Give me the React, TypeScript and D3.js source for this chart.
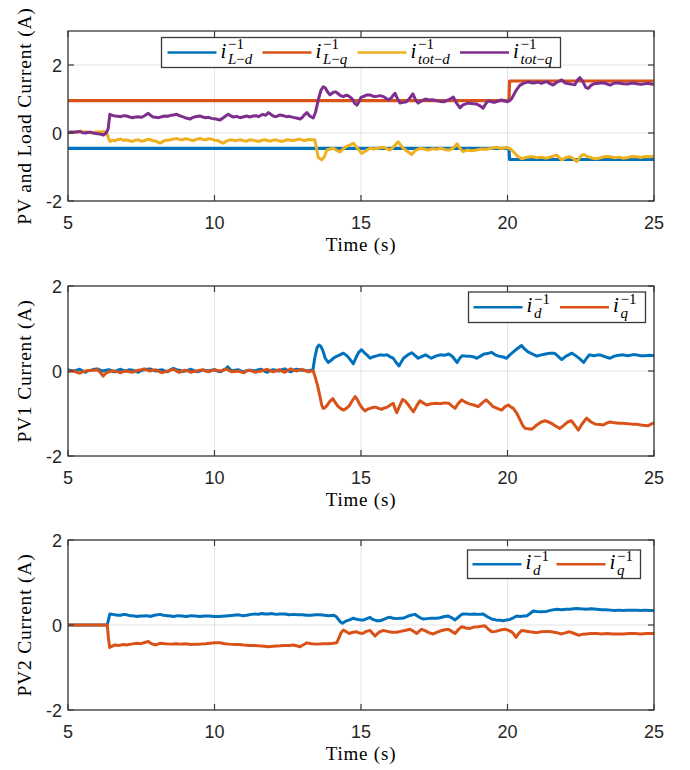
import React from "react";
import * as d3 from "d3";

type Pt = [number, number];

// ---- axes ----
const timeDomain: [number, number] = [5, 25];
const timeTicks = [5, 10, 15, 20, 25];
const currentTicks = [-2, 0, 2];

// ---- panel 1: load and total currents ----
const loadD: Pt[] = [[5, -0.45], [20.05, -0.45], [20.07, -0.78], [25, -0.78]];
const loadQ: Pt[] = [[5, 0.95], [20.05, 0.95], [20.07, 1.53], [25, 1.53]];

const totD: Pt[] = [
  [5.0, 0.0], [5.1, 0.02], [5.2, 0.03], [5.3, 0.01], [5.41, 0.06], [5.5, 0.03], [5.6, 0.04], [5.75, 0.01], [5.87, 0.0],
  [5.95, 0.03], [6.05, 0.04], [6.15, 0.02], [6.21, 0.05], [6.32, 0.0], [6.43, -0.25], [6.52, -0.21], [6.6, -0.23],
  [6.7, -0.19], [6.8, -0.18], [6.9, -0.22], [7.0, -0.2], [7.1, -0.23], [7.2, -0.25], [7.3, -0.21], [7.4, -0.2],
  [7.5, -0.24], [7.6, -0.23], [7.7, -0.19], [7.8, -0.19], [7.9, -0.23], [8.0, -0.24], [8.14, -0.3], [8.22, -0.26],
  [8.3, -0.22], [8.4, -0.21], [8.5, -0.2], [8.6, -0.18], [8.71, -0.16], [8.8, -0.19], [8.9, -0.2], [9.0, -0.17],
  [9.1, -0.18], [9.2, -0.21], [9.3, -0.22], [9.4, -0.18], [9.5, -0.16], [9.6, -0.19], [9.7, -0.2], [9.8, -0.17],
  [9.9, -0.18], [10.0, -0.21], [10.1, -0.22], [10.2, -0.26], [10.3, -0.3], [10.4, -0.24], [10.5, -0.21],
  [10.6, -0.2], [10.7, -0.23], [10.8, -0.21], [10.87, -0.2], [11.0, -0.23], [11.1, -0.24], [11.2, -0.2],
  [11.32, -0.21], [11.4, -0.23], [11.5, -0.25], [11.6, -0.22], [11.7, -0.2], [11.8, -0.22], [11.9, -0.24],
  [12.0, -0.21], [12.1, -0.2], [12.2, -0.23], [12.3, -0.25], [12.4, -0.22], [12.5, -0.2], [12.6, -0.21],
  [12.7, -0.22], [12.8, -0.2], [12.9, -0.18], [13.0, -0.21], [13.1, -0.22], [13.2, -0.19], [13.3, -0.2],
  [13.42, -0.2], [13.48, -0.45], [13.54, -0.72], [13.66, -0.79], [13.75, -0.7], [13.83, -0.5], [13.95, -0.47],
  [14.06, -0.45], [14.15, -0.5], [14.28, -0.56], [14.4, -0.46], [14.5, -0.4], [14.6, -0.36], [14.74, -0.3],
  [14.88, -0.45], [15.02, -0.6], [15.12, -0.55], [15.2, -0.5], [15.31, -0.45], [15.45, -0.47], [15.6, -0.44],
  [15.77, -0.42], [15.9, -0.47], [16.0, -0.5], [16.12, -0.4], [16.27, -0.26], [16.36, -0.36], [16.44, -0.45],
  [16.6, -0.55], [16.73, -0.63], [16.85, -0.52], [17.01, -0.45], [17.15, -0.47], [17.3, -0.5], [17.45, -0.46],
  [17.58, -0.48], [17.72, -0.45], [17.88, -0.49], [18.03, -0.5], [18.15, -0.44], [18.28, -0.32], [18.38, -0.46],
  [18.49, -0.55], [18.62, -0.5], [18.78, -0.52], [18.95, -0.5], [19.1, -0.47], [19.28, -0.48], [19.45, -0.45],
  [19.63, -0.42], [19.8, -0.46], [19.97, -0.42], [20.08, -0.46], [20.2, -0.55], [20.34, -0.68], [20.48, -0.76],
  [20.62, -0.72], [20.75, -0.7], [20.88, -0.7], [21.0, -0.73], [21.15, -0.71], [21.33, -0.74], [21.5, -0.7],
  [21.68, -0.65], [21.85, -0.79], [22.0, -0.72], [22.13, -0.7], [22.25, -0.75], [22.36, -0.84], [22.48, -0.7],
  [22.59, -0.63], [22.75, -0.7], [22.9, -0.74], [23.05, -0.76], [23.2, -0.72], [23.35, -0.69], [23.5, -0.7],
  [23.65, -0.73], [23.8, -0.71], [23.95, -0.74], [24.1, -0.72], [24.25, -0.69], [24.41, -0.7], [24.55, -0.72],
  [24.7, -0.69], [24.85, -0.7], [25.0, -0.68],
];

const totQ: Pt[] = [
  [5.0, 0.01], [5.1, 0.03], [5.2, 0.02], [5.3, 0.04], [5.41, 0.04], [5.5, 0.01], [5.6, 0.0], [5.7, 0.02],
  [5.8, 0.02], [5.9, -0.01], [6.0, -0.02], [6.1, -0.03], [6.21, -0.06], [6.3, 0.0], [6.37, 0.12], [6.43, 0.55],
  [6.52, 0.52], [6.6, 0.5], [6.7, 0.49], [6.8, 0.48], [6.9, 0.51], [7.0, 0.5], [7.1, 0.47], [7.2, 0.45],
  [7.3, 0.47], [7.4, 0.48], [7.5, 0.46], [7.6, 0.5], [7.74, 0.58], [7.82, 0.52], [7.9, 0.47], [8.0, 0.46],
  [8.1, 0.45], [8.2, 0.48], [8.3, 0.5], [8.4, 0.49], [8.5, 0.52], [8.6, 0.53], [8.71, 0.55], [8.8, 0.51],
  [8.9, 0.48], [9.0, 0.45], [9.16, 0.41], [9.25, 0.45], [9.35, 0.48], [9.5, 0.5], [9.6, 0.47], [9.7, 0.45],
  [9.8, 0.46], [9.9, 0.43], [10.05, 0.41], [10.19, 0.38], [10.3, 0.45], [10.38, 0.5], [10.47, 0.55], [10.56, 0.5],
  [10.65, 0.47], [10.75, 0.49], [10.87, 0.45], [11.0, 0.48], [11.1, 0.5], [11.2, 0.47], [11.32, 0.5],
  [11.42, 0.51], [11.5, 0.48], [11.58, 0.52], [11.65, 0.55], [11.75, 0.52], [11.84, 0.6], [11.92, 0.55],
  [12.0, 0.5], [12.1, 0.48], [12.24, 0.53], [12.35, 0.51], [12.45, 0.48], [12.55, 0.49], [12.69, 0.46],
  [12.8, 0.44], [12.92, 0.41], [13.0, 0.46], [13.05, 0.52], [13.15, 0.6], [13.25, 0.5], [13.37, 0.44],
  [13.45, 0.62], [13.55, 1.0], [13.63, 1.25], [13.71, 1.36], [13.78, 1.33], [13.85, 1.22], [13.94, 1.12],
  [14.06, 1.2], [14.13, 1.21], [14.2, 1.17], [14.3, 1.1], [14.4, 1.07], [14.48, 1.11], [14.55, 1.1],
  [14.62, 1.06], [14.7, 1.0], [14.78, 0.88], [14.86, 0.82], [14.93, 0.92], [15.0, 1.05], [15.1, 1.08],
  [15.2, 1.12], [15.31, 1.12], [15.42, 1.08], [15.5, 1.07], [15.65, 1.1], [15.77, 1.07], [15.85, 1.02],
  [15.95, 0.97], [16.05, 1.05], [16.16, 1.17], [16.25, 1.0], [16.33, 0.88], [16.45, 0.9], [16.55, 0.92],
  [16.66, 1.02], [16.77, 1.15], [16.86, 0.98], [16.95, 0.88], [17.08, 0.95], [17.2, 1.0], [17.32, 0.97],
  [17.45, 0.98], [17.58, 0.95], [17.7, 0.93], [17.85, 0.92], [18.0, 0.98], [18.15, 1.06], [18.26, 0.88],
  [18.38, 0.74], [18.47, 0.82], [18.55, 0.85], [18.65, 0.88], [18.75, 0.87], [18.85, 0.86], [18.95, 0.85],
  [19.06, 0.8], [19.17, 0.73], [19.27, 0.88], [19.35, 0.95], [19.45, 0.92], [19.55, 0.9], [19.68, 0.94],
  [19.8, 0.97], [19.9, 0.94], [20.0, 0.92], [20.08, 0.96], [20.15, 1.02], [20.3, 1.26], [20.42, 1.4],
  [20.54, 1.46], [20.65, 1.49], [20.75, 1.5], [20.85, 1.47], [20.95, 1.48], [21.05, 1.5], [21.15, 1.46],
  [21.25, 1.49], [21.35, 1.51], [21.45, 1.45], [21.56, 1.41], [21.7, 1.5], [21.85, 1.56], [21.97, 1.47],
  [22.1, 1.45], [22.2, 1.43], [22.3, 1.42], [22.38, 1.55], [22.47, 1.63], [22.58, 1.5], [22.67, 1.34],
  [22.75, 1.31], [22.85, 1.4], [22.95, 1.45], [23.1, 1.46], [23.2, 1.48], [23.3, 1.47], [23.4, 1.44],
  [23.5, 1.41], [23.62, 1.46], [23.75, 1.48], [23.85, 1.46], [23.95, 1.45], [24.1, 1.44], [24.2, 1.46],
  [24.3, 1.47], [24.41, 1.45], [24.55, 1.43], [24.7, 1.45], [24.82, 1.46], [24.9, 1.44], [25.0, 1.43],
];

// ---- panel 2: PV1 dq currents ----
const pv1D: Pt[] = [
  [5.0, 0.03], [5.1, 0.01], [5.2, 0.0], [5.3, 0.02], [5.4, 0.04], [5.5, 0.0], [5.6, -0.03], [5.7, 0.01],
  [5.8, 0.02], [5.9, 0.04], [6.0, 0.05], [6.1, 0.02], [6.2, 0.0], [6.3, 0.02], [6.4, 0.03], [6.5, 0.0],
  [6.6, -0.02], [6.7, 0.02], [6.8, 0.04], [6.9, 0.01], [7.0, 0.0], [7.1, 0.03], [7.2, 0.02], [7.3, -0.01],
  [7.4, -0.03], [7.5, 0.01], [7.6, 0.03], [7.7, 0.04], [7.8, 0.05], [7.9, 0.02], [8.0, 0.0], [8.1, 0.02],
  [8.2, 0.03], [8.3, 0.0], [8.4, -0.02], [8.5, 0.03], [8.6, 0.06], [8.7, 0.03], [8.8, 0.02], [8.9, -0.01],
  [9.0, 0.0], [9.1, 0.02], [9.2, 0.04], [9.3, 0.01], [9.4, -0.02], [9.5, 0.0], [9.6, 0.02], [9.7, 0.01],
  [9.8, 0.0], [9.9, 0.02], [10.0, 0.03], [10.1, 0.0], [10.2, -0.02], [10.3, 0.02], [10.4, 0.06], [10.45, 0.1],
  [10.52, 0.04], [10.6, 0.0], [10.7, 0.02], [10.8, 0.03], [10.9, 0.0], [11.0, -0.02], [11.1, 0.01],
  [11.2, 0.02], [11.3, 0.01], [11.4, 0.0], [11.5, 0.03], [11.6, 0.04], [11.7, 0.0], [11.8, -0.03], [11.9, 0.01],
  [12.0, 0.03], [12.1, 0.02], [12.2, 0.0], [12.3, 0.03], [12.4, 0.05], [12.5, 0.01], [12.6, -0.02], [12.7, 0.02],
  [12.8, 0.04], [12.9, 0.03], [13.0, 0.02], [13.1, 0.01], [13.2, 0.0], [13.3, 0.02], [13.36, 0.03],
  [13.42, 0.3], [13.5, 0.55], [13.56, 0.61], [13.63, 0.58], [13.7, 0.48], [13.78, 0.3], [13.88, 0.2],
  [13.96, 0.24], [14.06, 0.3], [14.15, 0.34], [14.28, 0.38], [14.4, 0.42], [14.48, 0.38], [14.55, 0.34],
  [14.65, 0.25], [14.74, 0.17], [14.82, 0.3], [14.92, 0.44], [15.02, 0.5], [15.1, 0.44], [15.2, 0.38],
  [15.31, 0.3], [15.4, 0.33], [15.5, 0.35], [15.65, 0.38], [15.77, 0.37], [15.9, 0.38], [16.0, 0.33],
  [16.1, 0.3], [16.2, 0.2], [16.3, 0.12], [16.38, 0.22], [16.45, 0.3], [16.6, 0.38], [16.73, 0.43],
  [16.85, 0.36], [16.95, 0.3], [17.07, 0.34], [17.2, 0.38], [17.3, 0.34], [17.4, 0.3], [17.55, 0.35],
  [17.7, 0.38], [17.85, 0.37], [18.0, 0.4], [18.12, 0.34], [18.28, 0.2], [18.37, 0.3], [18.45, 0.36],
  [18.6, 0.35], [18.72, 0.35], [18.85, 0.33], [18.95, 0.3], [19.08, 0.35], [19.2, 0.4], [19.32, 0.41],
  [19.45, 0.44], [19.58, 0.38], [19.7, 0.35], [19.85, 0.33], [19.97, 0.3], [20.08, 0.38], [20.2, 0.45],
  [20.34, 0.53], [20.48, 0.6], [20.58, 0.52], [20.7, 0.45], [20.85, 0.4], [21.0, 0.35], [21.15, 0.38],
  [21.3, 0.4], [21.45, 0.42], [21.6, 0.42], [21.72, 0.35], [21.85, 0.27], [22.0, 0.35], [22.2, 0.42],
  [22.35, 0.35], [22.48, 0.28], [22.6, 0.2], [22.7, 0.3], [22.8, 0.38], [22.95, 0.36], [23.1, 0.38],
  [23.2, 0.37], [23.35, 0.33], [23.5, 0.3], [23.65, 0.35], [23.8, 0.37], [23.95, 0.38], [24.1, 0.36],
  [24.25, 0.38], [24.4, 0.38], [24.55, 0.36], [24.7, 0.36], [24.85, 0.37], [25.0, 0.36],
];

const pv1Q: Pt[] = [
  [5.0, -0.02], [5.1, 0.0], [5.2, 0.0], [5.3, -0.03], [5.4, -0.05], [5.5, -0.02], [5.6, 0.0], [5.7, 0.01],
  [5.8, 0.02], [5.9, 0.02], [6.0, 0.03], [6.1, -0.03], [6.2, -0.12], [6.28, -0.06], [6.35, -0.03], [6.5, 0.0],
  [6.6, 0.0], [6.7, -0.02], [6.8, -0.04], [6.9, -0.01], [7.0, 0.0], [7.1, -0.02], [7.2, -0.03], [7.3, 0.0],
  [7.4, 0.02], [7.5, 0.03], [7.6, 0.05], [7.7, 0.02], [7.8, 0.0], [7.9, 0.02], [8.0, 0.03], [8.1, -0.01],
  [8.2, -0.04], [8.3, -0.02], [8.4, 0.0], [8.5, 0.02], [8.6, 0.04], [8.7, 0.0], [8.8, -0.03], [8.9, 0.0],
  [9.0, 0.02], [9.1, 0.0], [9.2, -0.03], [9.3, -0.01], [9.4, 0.0], [9.5, 0.02], [9.6, 0.03], [9.7, 0.0],
  [9.8, -0.02], [9.9, 0.01], [10.0, 0.03], [10.1, 0.01], [10.2, 0.0], [10.3, 0.02], [10.4, 0.05], [10.5, 0.01],
  [10.6, -0.02], [10.7, -0.01], [10.8, 0.0], [10.9, -0.02], [11.0, -0.04], [11.1, 0.0], [11.2, 0.02],
  [11.3, -0.01], [11.4, -0.03], [11.5, -0.01], [11.6, 0.0], [11.7, 0.02], [11.8, 0.04], [11.9, 0.01],
  [12.0, -0.02], [12.1, 0.0], [12.2, 0.03], [12.3, 0.0], [12.4, -0.03], [12.5, 0.01], [12.6, 0.05],
  [12.7, 0.02], [12.8, 0.0], [12.9, 0.02], [13.0, 0.04], [13.1, 0.01], [13.2, -0.02], [13.3, 0.0],
  [13.37, 0.0], [13.44, -0.15], [13.52, -0.35], [13.6, -0.6], [13.66, -0.8], [13.71, -0.88], [13.77, -0.86],
  [13.83, -0.82], [13.93, -0.72], [14.04, -0.65], [14.12, -0.74], [14.2, -0.82], [14.3, -0.88], [14.4, -0.92],
  [14.5, -0.88], [14.6, -0.82], [14.7, -0.7], [14.8, -0.6], [14.88, -0.68], [14.95, -0.78], [15.05, -0.88],
  [15.14, -0.94], [15.22, -0.9], [15.31, -0.88], [15.4, -0.86], [15.5, -0.85], [15.6, -0.88], [15.7, -0.9],
  [15.8, -0.87], [15.9, -0.85], [16.0, -0.8], [16.1, -0.76], [16.16, -0.88], [16.22, -0.98], [16.32, -0.82],
  [16.42, -0.67], [16.5, -0.7], [16.6, -0.78], [16.7, -0.88], [16.79, -0.96], [16.9, -0.82], [17.01, -0.7],
  [17.12, -0.75], [17.24, -0.8], [17.4, -0.77], [17.58, -0.76], [17.7, -0.77], [17.85, -0.75], [18.0, -0.76],
  [18.1, -0.82], [18.21, -0.88], [18.32, -0.76], [18.44, -0.68], [18.58, -0.74], [18.72, -0.78], [18.85, -0.8],
  [19.0, -0.84], [19.14, -0.75], [19.27, -0.68], [19.4, -0.76], [19.51, -0.84], [19.65, -0.88], [19.8, -0.92],
  [19.92, -0.84], [20.03, -0.8], [20.12, -0.85], [20.2, -0.88], [20.32, -1.0], [20.43, -1.15], [20.52, -1.28],
  [20.6, -1.35], [20.72, -1.36], [20.82, -1.37], [20.92, -1.32], [21.0, -1.27], [21.15, -1.2], [21.28, -1.17],
  [21.4, -1.2], [21.5, -1.23], [21.65, -1.3], [21.79, -1.35], [21.92, -1.28], [22.05, -1.2], [22.18, -1.17],
  [22.3, -1.28], [22.42, -1.39], [22.55, -1.24], [22.7, -1.11], [22.85, -1.2], [23.0, -1.25], [23.15, -1.26],
  [23.27, -1.27], [23.4, -1.22], [23.5, -1.2], [23.65, -1.22], [23.8, -1.23], [23.95, -1.23], [24.1, -1.24],
  [24.25, -1.25], [24.4, -1.25], [24.55, -1.27], [24.7, -1.28], [24.8, -1.29], [24.9, -1.25], [25.0, -1.22],
];

// ---- panel 3: PV2 dq currents ----
const pv2D: Pt[] = [
  [5.0, 0.0], [6.34, 0.0], [6.38, 0.12], [6.43, 0.26], [6.52, 0.25], [6.6, 0.24], [6.7, 0.23], [6.8, 0.23],
  [6.9, 0.25], [7.0, 0.24], [7.1, 0.22], [7.2, 0.22], [7.34, 0.2], [7.45, 0.21], [7.6, 0.21], [7.7, 0.22],
  [7.8, 0.2], [7.95, 0.23], [8.14, 0.25], [8.25, 0.23], [8.4, 0.22], [8.5, 0.21], [8.6, 0.2], [8.75, 0.22],
  [8.9, 0.21], [9.05, 0.2], [9.2, 0.22], [9.35, 0.21], [9.5, 0.2], [9.65, 0.21], [9.8, 0.21], [10.0, 0.2],
  [10.19, 0.2], [10.35, 0.21], [10.5, 0.22], [10.65, 0.23], [10.8, 0.24], [10.95, 0.22], [11.1, 0.23],
  [11.25, 0.25], [11.4, 0.26], [11.5, 0.25], [11.6, 0.27], [11.72, 0.26], [11.84, 0.26], [11.95, 0.27],
  [12.1, 0.25], [12.25, 0.26], [12.4, 0.26], [12.55, 0.24], [12.7, 0.25], [12.85, 0.24], [13.0, 0.24],
  [13.15, 0.23], [13.3, 0.23], [13.45, 0.24], [13.6, 0.24], [13.75, 0.23], [13.9, 0.22], [14.06, 0.23],
  [14.15, 0.2], [14.22, 0.14], [14.3, 0.07], [14.37, 0.04], [14.45, 0.08], [14.55, 0.11], [14.65, 0.13],
  [14.74, 0.16], [14.82, 0.14], [14.9, 0.13], [15.0, 0.12], [15.1, 0.12], [15.2, 0.15], [15.31, 0.18],
  [15.38, 0.14], [15.45, 0.12], [15.55, 0.1], [15.65, 0.1], [15.8, 0.14], [15.9, 0.17], [16.0, 0.18],
  [16.1, 0.16], [16.22, 0.15], [16.33, 0.16], [16.44, 0.16], [16.55, 0.19], [16.7, 0.23], [16.84, 0.25],
  [16.95, 0.2], [17.05, 0.16], [17.13, 0.14], [17.25, 0.15], [17.4, 0.16], [17.58, 0.16], [17.7, 0.17],
  [17.85, 0.2], [17.98, 0.21], [18.1, 0.17], [18.21, 0.12], [18.3, 0.17], [18.4, 0.23], [18.49, 0.26],
  [18.6, 0.26], [18.72, 0.25], [18.85, 0.26], [19.0, 0.25], [19.17, 0.26], [19.3, 0.2], [19.46, 0.14],
  [19.6, 0.12], [19.75, 0.11], [19.86, 0.1], [19.97, 0.12], [20.08, 0.13], [20.2, 0.17], [20.31, 0.21],
  [20.45, 0.2], [20.55, 0.21], [20.65, 0.21], [20.75, 0.26], [20.88, 0.33], [21.0, 0.32], [21.15, 0.31],
  [21.33, 0.32], [21.5, 0.35], [21.68, 0.37], [21.85, 0.36], [22.0, 0.37], [22.13, 0.37], [22.25, 0.38],
  [22.36, 0.39], [22.5, 0.38], [22.7, 0.37], [22.85, 0.38], [23.05, 0.37], [23.2, 0.36], [23.35, 0.36],
  [23.5, 0.35], [23.65, 0.34], [23.8, 0.35], [23.95, 0.34], [24.1, 0.35], [24.25, 0.35], [24.41, 0.35],
  [24.55, 0.34], [24.7, 0.35], [24.85, 0.34], [25.0, 0.34],
];

const pv2Q: Pt[] = [
  [5.0, 0.0], [6.34, 0.0], [6.38, -0.3], [6.42, -0.53], [6.5, -0.5], [6.6, -0.47], [6.75, -0.48],
  [6.9, -0.46], [7.0, -0.47], [7.15, -0.45], [7.34, -0.43], [7.5, -0.44], [7.62, -0.41], [7.74, -0.39],
  [7.85, -0.44], [8.0, -0.47], [8.14, -0.43], [8.3, -0.44], [8.5, -0.45], [8.7, -0.44], [8.85, -0.45],
  [9.0, -0.44], [9.2, -0.46], [9.35, -0.45], [9.5, -0.45], [9.7, -0.44], [9.85, -0.43], [10.0, -0.42],
  [10.19, -0.42], [10.35, -0.44], [10.5, -0.45], [10.7, -0.46], [10.85, -0.46], [11.0, -0.47],
  [11.2, -0.48], [11.35, -0.48], [11.5, -0.49], [11.7, -0.5], [11.84, -0.51], [12.0, -0.5], [12.24, -0.49],
  [12.4, -0.48], [12.55, -0.48], [12.69, -0.47], [12.8, -0.49], [12.92, -0.51], [13.05, -0.46],
  [13.15, -0.42], [13.3, -0.44], [13.5, -0.45], [13.7, -0.44], [13.9, -0.44], [14.05, -0.43], [14.17, -0.42],
  [14.25, -0.3], [14.32, -0.18], [14.4, -0.12], [14.5, -0.16], [14.6, -0.2], [14.72, -0.17], [14.85, -0.16],
  [14.95, -0.19], [15.05, -0.2], [15.18, -0.15], [15.31, -0.13], [15.4, -0.2], [15.48, -0.26],
  [15.58, -0.19], [15.67, -0.15], [15.77, -0.13], [15.9, -0.15], [16.05, -0.17], [16.22, -0.17],
  [16.35, -0.15], [16.5, -0.13], [16.67, -0.1], [16.8, -0.15], [16.9, -0.2], [17.0, -0.14], [17.07, -0.1],
  [17.2, -0.14], [17.35, -0.19], [17.47, -0.21], [17.6, -0.17], [17.75, -0.13], [17.87, -0.11],
  [17.98, -0.1], [18.1, -0.15], [18.21, -0.2], [18.32, -0.11], [18.44, -0.04], [18.58, -0.07],
  [18.72, -0.08], [18.85, -0.05], [19.0, -0.04], [19.12, -0.03], [19.23, -0.02], [19.35, -0.1],
  [19.46, -0.16], [19.6, -0.15], [19.75, -0.12], [19.91, -0.1], [20.02, -0.12], [20.14, -0.16],
  [20.22, -0.22], [20.29, -0.29], [20.38, -0.2], [20.48, -0.13], [20.6, -0.14], [20.75, -0.16],
  [20.88, -0.17], [21.0, -0.18], [21.15, -0.16], [21.33, -0.15], [21.5, -0.16], [21.68, -0.18],
  [21.85, -0.21], [22.0, -0.18], [22.13, -0.16], [22.28, -0.2], [22.42, -0.24], [22.55, -0.22],
  [22.7, -0.21], [22.85, -0.2], [23.05, -0.2], [23.2, -0.21], [23.4, -0.2], [23.6, -0.21], [23.8, -0.21],
  [23.95, -0.21], [24.15, -0.2], [24.35, -0.2], [24.55, -0.21], [24.75, -0.2], [24.9, -0.2], [25.0, -0.2],
];

// ---- styling ----
const BLUE = "#0072BD";
const ORANGE = "#D95319";
const YELLOW = "#EDB120";
const PURPLE = "#7E2F8E";

const X0 = 68;
const X1 = 654;

const SERIF = "Liberation Serif, DejaVu Serif, serif";
const SANS = "Liberation Sans, Arial, sans-serif";

interface Series {
  data: Pt[];
  color: string;
  width: number;
  sub: string; // subscript of the legend symbol
}

interface Panel {
  id: string;
  top: number;
  bottom: number;
  yDomain: [number, number];
  ylabel: string;
  series: Series[];
  legend: { x: number; y: number; w: number; h: number; entryX: number[] };
}

const panels: Panel[] = [
  {
    id: "p1",
    top: 31,
    bottom: 201,
    yDomain: [-2, 3],
    ylabel: "PV and Load Current (A)",
    series: [
      { data: loadD, color: BLUE, width: 3.2, sub: "L−d" },
      { data: loadQ, color: ORANGE, width: 3.2, sub: "L−q" },
      { data: totD, color: YELLOW, width: 3, sub: "tot−d" },
      { data: totQ, color: PURPLE, width: 3, sub: "tot−q" },
    ],
    legend: { x: 161.5, y: 37.5, w: 399, h: 30, entryX: [6, 101, 196, 298.5] },
  },
  {
    id: "p2",
    top: 286,
    bottom: 456,
    yDomain: [-2, 2],
    ylabel: "PV1 Current (A)",
    series: [
      { data: pv1D, color: BLUE, width: 3, sub: "d" },
      { data: pv1Q, color: ORANGE, width: 3, sub: "q" },
    ],
    legend: { x: 468.5, y: 292, w: 177, h: 30.5, entryX: [5, 91.5] },
  },
  {
    id: "p3",
    top: 540,
    bottom: 710,
    yDomain: [-2, 2],
    ylabel: "PV2 Current (A)",
    series: [
      { data: pv2D, color: BLUE, width: 3, sub: "d" },
      { data: pv2Q, color: ORANGE, width: 3, sub: "q" },
    ],
    legend: { x: 467.5, y: 550, w: 173, h: 28.5, entryX: [5, 89] },
  },
];

const AXIS = "#3a3a3a";
const GRID = "#e4e4e4";
const TICK_TXT = "#262626";

function LegendSymbol({ x, y, sub }: { x: number; y: number; sub: string }) {
  // italic "i" with a "−1" superscript and an italic subscript
  const parts = sub.split("−");
  return (
    <g style={{ fontFamily: SERIF }}>
      <text x={x} y={y + 5} fontSize={21} fontStyle="italic" fill="#000">i</text>
      <text x={x + 7.5} y={y - 3.5} fontSize={15} fill="#000">−1</text>
      <text x={x + 7.5} y={y + 11} fontSize={15} fill="#000">
        <tspan fontStyle="italic">{parts[0]}</tspan>
        {parts.length > 1 && <tspan>−</tspan>}
        {parts.length > 1 && <tspan fontStyle="italic">{parts[1]}</tspan>}
      </text>
    </g>
  );
}

function PanelView({ p }: { p: Panel }) {
  const x = d3.scaleLinear().domain(timeDomain).range([X0, X1]);
  const y = d3.scaleLinear().domain(p.yDomain).range([p.bottom, p.top]);
  const line = d3
    .line<Pt>()
    .x((d) => x(d[0]))
    .y((d) => y(d[1]));
  const tickLen = 6;
  const midY = (p.top + p.bottom) / 2;
  const lg = p.legend;
  const lineY = lg.y + lg.h / 2;

  return (
    <g>
      <defs>
        <clipPath id={`clip-${p.id}`}>
          <rect x={X0} y={p.top} width={X1 - X0} height={p.bottom - p.top} />
        </clipPath>
      </defs>
      <rect x={X0} y={p.top} width={X1 - X0} height={p.bottom - p.top} fill="#fff" />
      {/* grid */}
      {timeTicks.map((t) => (
        <line key={`gx${t}`} x1={x(t)} x2={x(t)} y1={p.top} y2={p.bottom} stroke={GRID} strokeWidth={1} />
      ))}
      {currentTicks.map((v) => (
        <line key={`gy${v}`} x1={X0} x2={X1} y1={y(v)} y2={y(v)} stroke={GRID} strokeWidth={1} />
      ))}
      {/* data */}
      <g clipPath={`url(#clip-${p.id})`}>
        {p.series.map((s, i) => (
          <path
            key={i}
            d={line(s.data) ?? ""}
            fill="none"
            stroke={s.color}
            strokeWidth={s.width}
            strokeLinejoin="round"
            strokeLinecap="round"
          />
        ))}
      </g>
      {/* box and ticks */}
      <rect x={X0} y={p.top} width={X1 - X0} height={p.bottom - p.top} fill="none" stroke={AXIS} strokeWidth={1.3} />
      {timeTicks.map((t) => (
        <g key={`tx${t}`}>
          <line x1={x(t)} x2={x(t)} y1={p.bottom} y2={p.bottom - tickLen} stroke={AXIS} strokeWidth={1.2} />
          <line x1={x(t)} x2={x(t)} y1={p.top} y2={p.top + tickLen} stroke={AXIS} strokeWidth={1.2} />
          <text
            x={x(t)}
            y={p.bottom + 28}
            textAnchor="middle"
            style={{ fontFamily: SANS }}
            fontSize={18}
            fill={TICK_TXT}
          >
            {t}
          </text>
        </g>
      ))}
      {currentTicks.map((v) => (
        <g key={`ty${v}`}>
          <line x1={X0} x2={X0 + tickLen} y1={y(v)} y2={y(v)} stroke={AXIS} strokeWidth={1.2} />
          <line x1={X1} x2={X1 - tickLen} y1={y(v)} y2={y(v)} stroke={AXIS} strokeWidth={1.2} />
          <text
            x={62}
            y={y(v) + 6.5}
            textAnchor="end"
            style={{ fontFamily: SANS }}
            fontSize={18}
            fill={TICK_TXT}
          >
            {v}
          </text>
        </g>
      ))}
      {/* axis labels */}
      <text
        x={(X0 + X1) / 2}
        y={p.bottom + 50}
        textAnchor="middle"
        style={{ fontFamily: SERIF, letterSpacing: "0.8px" }}
        fontSize={19}
        fill="#000"
      >
        Time (s)
      </text>
      <text
        transform={`translate(31,${midY}) rotate(-90)`}
        textAnchor="middle"
        style={{ fontFamily: SERIF, letterSpacing: "0.8px" }}
        fontSize={19.5}
        fill="#000"
      >
        {p.ylabel}
      </text>
      {/* legend */}
      <rect x={lg.x} y={lg.y} width={lg.w} height={lg.h} fill="#fff" stroke={AXIS} strokeWidth={1.3} />
      {p.series.map((s, i) => {
        const ex = lg.x + lg.entryX[i];
        return (
          <g key={`lg${i}`}>
            <line x1={ex} x2={ex + 49} y1={lineY} y2={lineY} stroke={s.color} strokeWidth={2.6} />
            <LegendSymbol x={ex + 53} y={lineY} sub={s.sub} />
          </g>
        );
      })}
    </g>
  );
}

export default function App() {
  return (
    <svg
      width={690}
      height={770}
      viewBox="0 0 690 770"
      style={{ position: "absolute", left: 0, top: 0, background: "#fff" }}
    >
      <rect width={690} height={770} fill="#fff" />
      {panels.map((p) => (
        <PanelView key={p.id} p={p} />
      ))}
    </svg>
  );
}
